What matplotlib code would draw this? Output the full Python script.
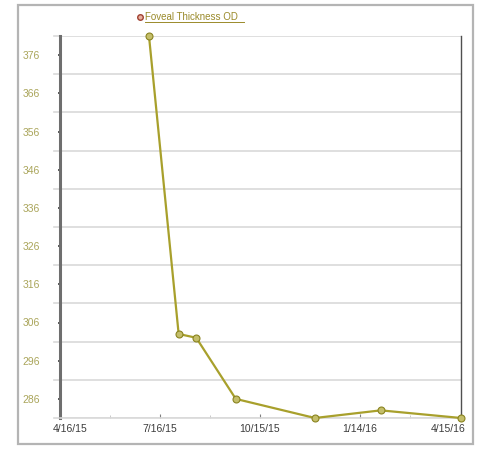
import matplotlib
matplotlib.use("Agg")
import matplotlib.pyplot as plt
import matplotlib.dates as mdates
import matplotlib.transforms as mtransforms
from matplotlib.patches import Rectangle
from matplotlib.lines import Line2D
import datetime as dt

# Data
dates = ["2015-07-06", "2015-08-02", "2015-08-18", "2015-09-23", "2015-12-04", "2016-02-02", "2016-04-15"]
values = [381, 303, 302, 286, 281, 283, 281]
series_name = "Foveal Thickness OD"
ytick_values = [286, 296, 306, 316, 326, 336, 346, 356, 366, 376]
ytick_labels = [str(v) for v in ytick_values]
xtick_dates = ["2015-04-16", "2015-07-16", "2015-10-15", "2016-01-14", "2016-04-15"]
xtick_labels = ["4/16/15", "7/16/15", "10/15/15", "1/14/16", "4/15/16"]
grid_values = [281 + 10 * k for k in range(11)]

plt.rcParams['font.family'] = ['Liberation Sans', 'DejaVu Sans']

fig = plt.figure(figsize=(4.96, 4.55), dpi=100)
W, H = 496, 455
# outer frame
fig.patches.append(Rectangle((18 / W, 1 - 444 / H), (473 - 18) / W, (444 - 5) / H,
                             transform=fig.transFigure, fill=False,
                             edgecolor="#b4b4b4", linewidth=1.6))

ax = fig.add_axes([60 / W, 1 - 418 / H, (461 - 60) / W, (418 - 36) / H])
xd = [mdates.date2num(dt.datetime.fromisoformat(d)) for d in dates]
xt = [mdates.date2num(dt.datetime.fromisoformat(d)) for d in xtick_dates]

ax.set_xlim(xt[0], xt[-1])
ax.set_ylim(281, 381)

for g in grid_values:
    ax.axhline(g, color="#d9d9d9", linewidth=1.2, zorder=1)
    ax.plot([-0.015, 0], [(g - 281) / 100] * 2, transform=ax.transAxes,
            color="#d9d9d9", linewidth=1.2, clip_on=False, zorder=1)

ax.plot(xd, values, color="#a8a02c", linewidth=1.6, zorder=5, clip_on=False,
        marker="o", markersize=5, markerfacecolor="#c4be6a",
        markeredgecolor="#8a8420", markeredgewidth=0.8)

ax.set_yticks(ytick_values)
ax.set_yticklabels(ytick_labels, color="#aaa55a", fontsize=7.5)
ax.set_xticks(xt)
ax.set_xticklabels(xtick_labels, color="#3c3c3c", fontsize=7.5)
ax.tick_params(axis="y", length=2.5, width=1.2, color="#404040", direction="inout", pad=13)
ax.tick_params(axis="x", length=3, width=0.8, color="#808080", direction="in", pad=4)
minor = [(xt[i] + xt[i + 1]) / 2 for i in range(len(xt) - 1)]
ax.set_xticks(minor, minor=True)
ax.tick_params(axis="x", which="minor", length=2, width=0.6, color="#c0c0c0", direction="in")

# shift end labels inward as in the reference
labels = ax.get_xticklabels()
labels[0].set_transform(labels[0].get_transform() +
                        mtransforms.ScaledTranslation(10 / 100, 0, fig.dpi_scale_trans))
labels[-1].set_transform(labels[-1].get_transform() +
                         mtransforms.ScaledTranslation(-13 / 100, 0, fig.dpi_scale_trans))

ax.spines["top"].set_visible(False)
ax.spines["left"].set_color("#6e6e6e")
ax.spines["left"].set_linewidth(2.2)
ax.spines["right"].set_color("#505050")
ax.spines["right"].set_linewidth(1.0)
ax.spines["bottom"].set_color("#d9d9d9")
ax.spines["bottom"].set_linewidth(1.2)

# legend
fig.lines.append(Line2D([140 / W], [1 - 17 / H], transform=fig.transFigure, marker="o",
                        markersize=4, markerfacecolor="#e8b0a0", markeredgecolor="#a04030",
                        markeredgewidth=1.0, linestyle="none"))
fig.text(145 / W, 1 - 17 / H, series_name, color="#9a8a2a", fontsize=7,
         va="center", ha="left")
fig.lines.append(Line2D([145 / W, 244 / W], [1 - 22 / H] * 2, transform=fig.transFigure,
                        color="#9a8a2a", linewidth=0.7))

fig.savefig("out.png", dpi=100, facecolor="white")
